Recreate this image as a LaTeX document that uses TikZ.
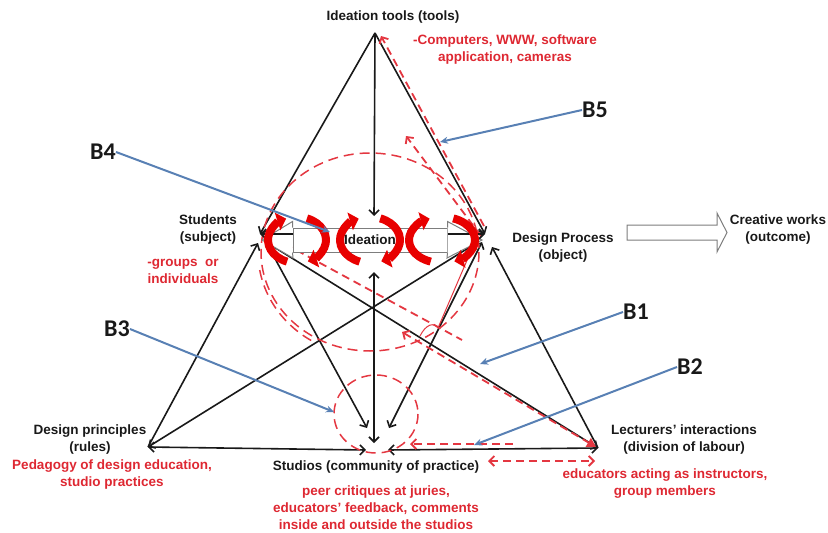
\documentclass[tikz,border=0pt]{standalone}
\usepackage{fontspec}
\setmainfont{Liberation Sans}
\newfontfamily\bfont{Carlito}
\usetikzlibrary{arrows.meta}
\definecolor{ink}{RGB}{25,25,25}
\definecolor{redtxt}{RGB}{222,40,50}
\definecolor{reddash}{RGB}{228,55,65}
\definecolor{cyclered}{RGB}{232,0,0}
\definecolor{pointer}{RGB}{88,128,180}
\definecolor{boxedge}{RGB}{125,125,125}
\begin{document}
\begin{tikzpicture}[x=1pt,y=-1pt,
  lbl/.style={font=\fontsize{13.5}{17}\selectfont\bfseries, text=ink, align=center, inner sep=0pt},
  redlbl/.style={lbl, text=redtxt},
  bname/.style={font=\bfont\fontsize{24}{26}\selectfont\bfseries, text=ink, inner sep=0pt},
  link/.style={draw=ink, line width=1.6pt, >={Straight Barb[length=5pt,width=10pt]}},
  redpath/.style={draw=reddash, line width=1.8pt, dash pattern=on 8pt off 5pt,
                  >={Straight Barb[length=5pt,width=10pt]}},
  ring/.style={draw=reddash, line width=1.5pt, dash pattern=on 10pt off 6pt},
  pointer/.style={draw=pointer, line width=2pt, -{Stealth[length=8pt,width=7pt]}},
  cyc/.style={draw=cyclered, line width=8pt, -{Triangle[length=9pt,width=18pt]}},
  blockarrow/.style={draw=boxedge, line width=1pt, fill=white},
]
\useasboundingbox (0,0) rectangle (828,533);

% ---- vertices of the activity system
\coordinate (T) at (375,33);
\coordinate (S) at (260,234);
\coordinate (D) at (485,234);
\coordinate (R) at (148,447);
\coordinate (C) at (375,452);
\coordinate (L) at (598,448);

% ---- auxiliary end points of connectors
\coordinate (Slow) at (258,243);
\coordinate (Sout) at (266,242);
\coordinate (Dlow1) at (478,242);
\coordinate (Dlow2) at (482,242);
\coordinate (Dlow3) at (492,247);
\coordinate (Cnw) at (367,428);
\coordinate (Cne) at (389,428);
\coordinate (Cw) at (366,450);
\coordinate (Ce) at (388,450);
\coordinate (Cv) at (374,443);
\coordinate (Iv) at (374,272);
\coordinate (Itop) at (374,216);

% ---- black connectors
\draw[link,->] (T) -- (S);
\draw[link,->] (T) -- (D);
\draw[link,->] (T) -- (Itop);
\draw[link,->] (R) -- (Slow);
\draw[link,<->] (R) -- (Dlow1);
\draw[link,<->] (Cne) -- (Dlow2);
\draw[link,->] (Sout) -- (Cnw);
\draw[link,->] (Sout) -- (L);
\draw[link,->] (L) -- (Dlow3);
\draw[link,<->] (R) -- (Cw);
\draw[link,<->] (Ce) -- (L);
\draw[link,<->] (Cv) -- (Iv);

% ---- dashed red regions
\coordinate (Ring) at (370,252);
\coordinate (Studio) at (376,414);
\draw[ring] (Ring) ellipse[x radius=109, y radius=99];
\draw[ring] (Ring) ++(190:112pt and 104pt) arc[start angle=190, end angle=240, x radius=112pt, y radius=104pt];
\draw[ring] (Studio) ellipse[x radius=42, y radius=39];

% ---- dashed red interaction paths
\coordinate (a1) at (484,226); \coordinate (a2) at (381,36);
\coordinate (b1) at (481,236); \coordinate (b2) at (406,136);
\coordinate (c1) at (285,244); \coordinate (c2) at (462,340);
\coordinate (d1) at (402,332); \coordinate (d2) at (596,447);
\coordinate (e1) at (513,444); \coordinate (e2) at (410,444);
\coordinate (f1) at (488,461); \coordinate (f2) at (595,461);
\draw[redpath,->] (a1) -- (a2);
\draw[redpath,->] (b1) -- (b2);
\draw[redpath] (c1) -- (c2);
\draw[redpath,<-{Triangle[length=9pt,width=10pt]}] (d1) -- (d2);
\draw[redpath,->] (e1) -- (e2);
\draw[redpath,<->] (f1) -- (f2);
\draw[draw=reddash, line width=1pt] (474,244) -- (438,328) .. controls (434,322) and (426,324) .. (420,336);

% ---- Ideation block arrow between subject and object
\node[draw=boxedge, line width=1pt, fill=white, minimum width=154pt, minimum height=24pt, inner sep=0pt] (idea) at (370,240) {};
\draw[blockarrow] (idea.north east) -- ++(0,-6) -- (482,240) -- (447,258) -- (idea.south east);
\draw[blockarrow] (idea.north west) -- ++(0,-6) -- (262,240) -- (293,258) -- (idea.south west);
\draw[link,<-] (S) -- (S -| idea.west);
\draw[link,->] (D -| idea.east) -- (D);

% ---- red cycles of ideation
\foreach \cx/\rx in {297/29, 370/30, 442/33}{
  \draw[cyc] (\cx,240) ++(250:\rx pt and 23pt) arc[start angle=250, end angle=112, x radius=\rx pt, y radius=23pt];
  \draw[cyc] (\cx,240) ++(70:\rx pt and 23pt) arc[start angle=70, end angle=-68, x radius=\rx pt, y radius=23pt];
}
\node[lbl] (ideation) at (idea.center) {Ideation};

% ---- outcome block arrow
\draw[blockarrow] (627,225) -- (717,225) -- (717,213) -- (727,232.5) -- (717,252) -- (717,240) -- (627,240) -- cycle;

% ---- labels of the vertices
\node[lbl] (tools) at (393,17) {Ideation tools (tools)};
\node[redlbl] (toolsnote) at (505,50) {-Computers, WWW, software\\application, cameras};
\node[lbl] (subject) at (208,230) {Students\\(subject)};
\node[redlbl] (subjectnote) at (183,271) {-groups\ \ or\\individuals};
\node[lbl] (object) at (563,248) {Design Process\\(object)};
\node[lbl] (outcome) at (778,230) {Creative works\\(outcome)};
\node[lbl] (rules) at (90,440) {Design principles\\(rules)};
\node[redlbl] (rulesnote) at (112,475) {Pedagogy of design education,\\studio practices};
\node[lbl] (community) at (376,467) {Studios (community of practice)};
\node[redlbl] (communitynote) at (376,508) {peer critiques at juries,\\educators' feedback, comments\\inside and outside the studios};
\node[lbl] (labour) at (684,440) {Lecturers' interactions\\(division of labour)};
\node[redlbl] (labournote) at (665,484) {educators acting as instructors,\\group members};

% ---- tension markers
\node[bname] (b5) at (595,110) {B5};
\node[bname] (b4) at (103,152) {B4};
\node[bname] (b1) at (636,312) {B1};
\node[bname] (b2) at (690,367) {B2};
\node[bname] (b3) at (117,329) {B3};
\coordinate (p5) at (440,142);
\coordinate (p4) at (330,232);
\coordinate (p1) at (480,364);
\coordinate (p2) at (474,445);
\coordinate (p3) at (334,412);
\draw[pointer] (b5.west) -- (p5);
\draw[pointer] (b4.east) -- (p4);
\draw[pointer] (b1.west) -- (p1);
\draw[pointer] (b2.west) -- (p2);
\draw[pointer] (b3.east) -- (p3);
\end{tikzpicture}
\end{document}
